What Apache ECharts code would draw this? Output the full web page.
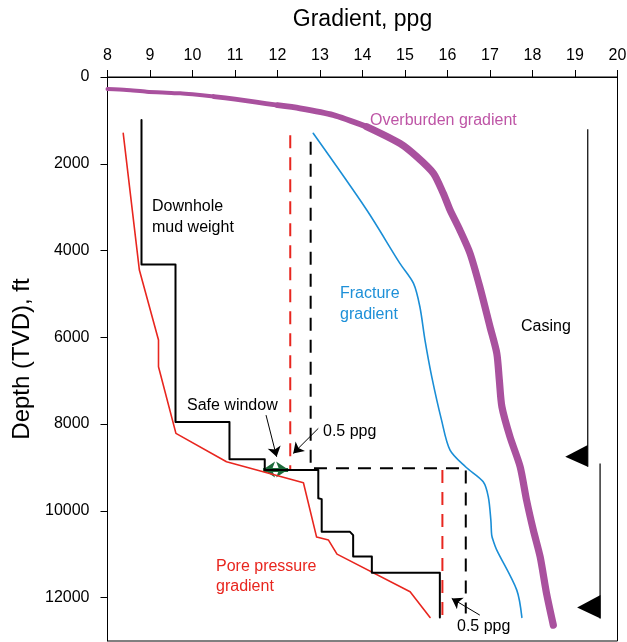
<!DOCTYPE html>
<html><head><meta charset="utf-8">
<script src="https://cdn.jsdelivr.net/npm/echarts@6/dist/echarts.min.js"></script>
<style>html,body{margin:0;padding:0;background:#fff}#c{width:627px;height:642px}</style>
</head><body><div id="c"></div>
<script>
// ---- data ----
const depthTicks = [0, 2000, 4000, 6000, 8000, 10000, 12000];

const obGrad  = [8.0, 8.45, 8.92, 9.39, 9.71, 10.0, 10.5, 11.0, 11.5, 12.0, 12.53, 13.31, 14.10, 14.88, 15.28, 15.67, 15.90, 16.06, 16.29, 16.53, 16.76, 17.00, 17.16, 17.22, 17.28, 17.47, 17.71, 17.86, 18.02, 18.18, 18.33, 18.49];
const obDepth = [277, 300, 339, 362, 376, 400, 450, 510, 580, 650, 722, 876, 1146, 1529, 1837, 2220, 2681, 3066, 3528, 4065, 4835, 5757, 6370, 6993, 7601, 8293, 8985, 9753, 10445, 11060, 11903, 12634];

const poreGrad  = [8.37, 8.75, 9.20, 9.20, 9.61, 10.80, 12.61, 12.92, 13.20, 13.40, 15.12, 15.59];
const poreDepth = [1298, 4450, 6063, 6679, 8215, 8869, 9353, 10605, 10674, 10997, 11866, 12456];

const mudGrad  = [8.8, 8.8, 9.6, 9.6, 10.87, 10.87, 11.7, 11.7, 12.96, 12.96, 13.04, 13.04, 13.7, 13.78, 13.78, 14.22, 14.22, 15.82, 15.82];
const mudDepth = [990, 4320, 4320, 7950, 7950, 8810, 8810, 9060, 9060, 9710, 9730, 10480, 10480, 10560, 11055, 11055, 11424, 11424, 12457];

const fracGrad  = [12.84, 14.10, 14.88, 15.20, 15.35, 15.47, 15.63, 15.86, 16.06, 16.43, 16.84, 16.96, 17.02, 17.04, 17.08, 17.16, 17.63, 17.75];
const fracDepth = [1298, 3066, 4296, 4757, 5296, 6063, 6910, 7908, 8600, 8990, 9330, 9676, 10213, 10559, 10700, 10905, 11827, 12457];

const redDash1Grad = [12.3, 12.3],   redDash1Depth = [1340, 9060];
const redDash2Grad = [15.88, 15.88], redDash2Depth = [9060, 12520];
const blkDashGrad  = [12.78, 12.78, 16.43, 16.43];
const blkDashDepth = [1490, 9020, 9020, 12365];

const casing1Grad = [19.3, 19.3],   casing1Depth = [1206, 8984];
const casing2Grad = [19.59, 19.59], casing2Depth = [8907, 12480];
// casing shoes: tip gradient, tip depth, base gradient, base top depth, base bottom depth
const shoeTipGrad  = [18.77, 19.05];
const shoeTipDepth = [8754, 12226];
const shoeBaseGrad = [19.3, 19.6];
const shoeTopDepth = [8484, 11942];
const shoeBotDepth = [8984, 12480];

// annotation arrows [fromGrad, fromDepth, toGrad, toDepth]
const arrowSafe  = [11.73, 7793, 11.98, 8754];
const arrowPpg1  = [12.96, 8099, 12.37, 8676];
const arrowPpg2  = [16.76, 12403, 16.10, 12018];
const safeWindow = [11.66, 9045, 12.25, 9045];

// ---- helpers ----
const zip = (a, b) => a.map((v, i) => [v, b[i]]);
const FONT = '"Liberation Sans", Arial, sans-serif';
const ob = zip(obGrad, obDepth);
const OB_COLOR = '#A9519E';

function lineSeries(data, color, width, extra) {
  return Object.assign({
    type: 'line', data: data, symbol: 'none', silent: true,
    lineStyle: { color: color, width: width, cap: 'round', join: 'round' }
  }, extra || {});
}
function dashSeries(data, color) {
  return lineSeries(data, color, 2, { lineStyle: { color: color, width: 2, type: [13, 9] } });
}
function arrow(a, color, width, syms, size) {
  return {
    type: 'lines', coordinateSystem: 'cartesian2d', silent: true,
    symbol: syms, symbolSize: size,
    lineStyle: { color: color, width: width, opacity: 1 },
    data: [{ coords: [[a[0], a[1]], [a[2], a[3]]] }]
  };
}
function txt(t, x, y, color) {
  return { type: 'text', x: x, y: y, silent: true,
    style: { text: t, fill: color || '#000', font: '16px ' + FONT, textAlign: 'left', textVerticalAlign: 'middle' } };
}

const chart = echarts.init(document.getElementById('c'), null, { renderer: 'canvas' });
chart.setOption({
  animation: false,
  backgroundColor: '#fff',
  grid: { left: 107.5, right: 9.5, top: 77, bottom: 1, containLabel: false, outerBoundsMode: 'none',
          show: true, borderColor: '#000', borderWidth: 1, backgroundColor: 'transparent' },
  xAxis: {
    type: 'value', position: 'top', min: 8, max: 20, interval: 1,
    name: 'Gradient, ppg', nameLocation: 'middle', nameGap: 46,
    nameTextStyle: { fontSize: 23, color: '#000', fontFamily: FONT },
    axisLine: { show: true, lineStyle: { color: '#000', width: 1 } },
    axisTick: { show: true, inside: false, length: 7, lineStyle: { color: '#000' } },
    axisLabel: { color: '#000', fontSize: 16, fontFamily: FONT, margin: 13 },
    splitLine: { show: false }
  },
  yAxis: {
    type: 'value', inverse: true, min: 0, max: 13000,
    name: 'Depth (TVD), ft', nameLocation: 'middle', nameGap: 73, nameRotate: 90,
    nameTextStyle: { fontSize: 24, color: '#000', fontFamily: FONT },
    axisLine: { show: true, lineStyle: { color: '#000', width: 1 } },
    axisTick: { show: true, inside: false, length: 7, customValues: depthTicks, lineStyle: { color: '#000' } },
    axisLabel: { color: '#000', fontSize: 16, fontFamily: FONT, margin: 18, customValues: depthTicks,
                 formatter: function (v) { return String(v); } },
    splitLine: { show: false }
  },
  series: [
    lineSeries(ob.slice(0, 7), OB_COLOR, 4, { smooth: 0.25 }),
    lineSeries(ob.slice(6, 10), OB_COLOR, 4.8, { smooth: 0.25 }),
    lineSeries(ob.slice(9, 13), OB_COLOR, 5.8, { smooth: 0.25 }),
    lineSeries(ob.slice(12), OB_COLOR, 7.2, { smooth: 0.25 }),
    lineSeries(zip(fracGrad, fracDepth), '#1A8ED6', 1.6, { smooth: 0.3 }),
    lineSeries(zip(poreGrad, poreDepth), '#E8261F', 1.6),
    dashSeries(zip(redDash1Grad, redDash1Depth), '#E8261F'),
    dashSeries(zip(redDash2Grad, redDash2Depth), '#E8261F'),
    dashSeries(zip(blkDashGrad, blkDashDepth), '#000'),
    lineSeries(zip(mudGrad, mudDepth), '#000', 2),
    lineSeries(zip(casing1Grad, casing1Depth), '#000', 1.2, { lineStyle: { color: '#000', width: 1.2 } }),
    lineSeries(zip(casing2Grad, casing2Depth), '#000', 1.2, { lineStyle: { color: '#000', width: 1.2 } }),
    {
      type: 'custom', silent: true,
      data: shoeTipGrad.map((g, i) => [g, shoeTipDepth[i], shoeBaseGrad[i], shoeTopDepth[i], shoeBotDepth[i]]),
      renderItem: function (params, api) {
        const tip = api.coord([api.value(0), api.value(1)]);
        const a = api.coord([api.value(2), api.value(3)]);
        const b = api.coord([api.value(2), api.value(4)]);
        return { type: 'polygon', shape: { points: [tip, a, b] }, style: { fill: '#000' } };
      }
    },
    arrow(arrowSafe, '#000', 1, ['none', 'arrow'], 10),
    arrow(arrowPpg1, '#000', 1, ['none', 'arrow'], 10),
    arrow(arrowPpg2, '#000', 1, ['none', 'arrow'], 10),
    arrow(safeWindow, '#1C6B3A', 4, ['arrow', 'arrow'], 12)
  ],
  graphic: [
    txt('Overburden gradient', 370, 121, '#BE55A6'),
    txt('Downhole', 152, 207),
    txt('mud weight', 152, 228),
    txt('Fracture', 340, 294, '#1E90D8'),
    txt('gradient', 340, 315, '#1E90D8'),
    txt('Casing', 521, 327),
    txt('Safe window', 187, 406),
    txt('0.5 ppg', 323, 432),
    txt('Pore pressure', 216, 567, '#E8261F'),
    txt('gradient', 216, 587, '#E8261F'),
    txt('0.5 ppg', 457, 627)
  ]
});
</script></body></html>
